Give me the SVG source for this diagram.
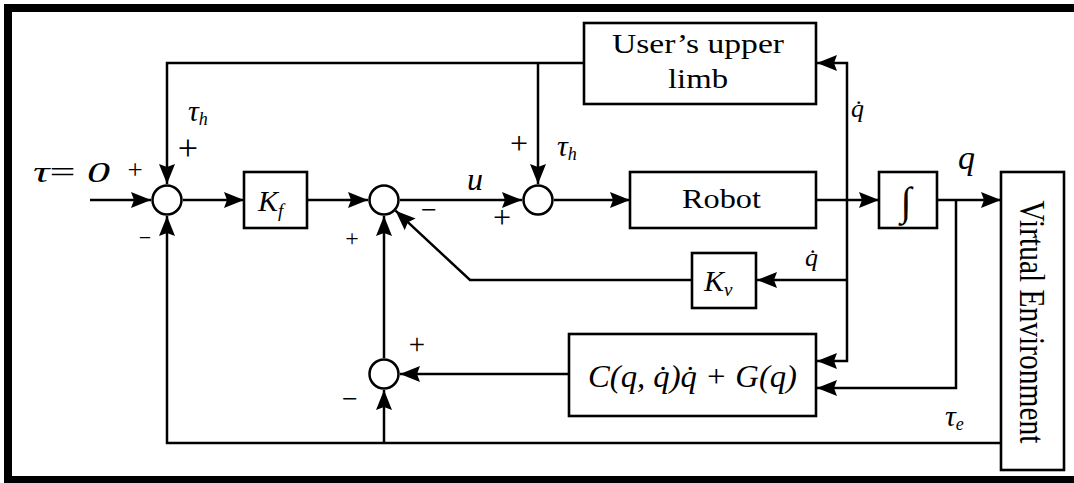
<svg xmlns="http://www.w3.org/2000/svg" width="1074" height="483" viewBox="0 0 1074 483">
<defs>
<marker id="ah" viewBox="0 0 20 16" refX="20" refY="8" markerWidth="20" markerHeight="16" markerUnits="userSpaceOnUse" orient="auto">
<path d="M0,0 L20,8 L0,16 L3,8 z" fill="#000"/>
</marker>
<style>
.box{fill:#fff;stroke:#000;stroke-width:2.6}
.sum{fill:#fff;stroke:#000;stroke-width:2.5}
.ln{fill:none;stroke:#000;stroke-width:2.5;marker-end:url(#ah)}
.t{font-family:"Liberation Serif","Times New Roman",serif;fill:#000}
.m{font-family:"Liberation Serif","Times New Roman",serif;font-style:italic;fill:#000}
.s{font-family:"Liberation Serif","Times New Roman",serif;fill:#000;text-anchor:middle}
</style>
</defs>
<rect x="0" y="0" width="1074" height="483" fill="#fff"/>
<rect x="8" y="8" width="1080" height="472" fill="none" stroke="#000" stroke-width="8"/>

<g id="connectors">
<path class="ln" d="M90,200 H151"/>
<path class="ln" d="M584,63 H167 V184"/>
<path class="ln" d="M538,63 V184"/>
<path class="ln" d="M183,200 H244"/>
<path class="ln" d="M307,200 H368"/>
<path class="ln" d="M400,200 H522"/>
<path class="ln" d="M554,200 H630"/>
<path class="ln" d="M816,200 H879"/>
<path class="ln" d="M937,200 H1001"/>
<path class="ln" d="M847,200 V63 H817"/>
<path class="ln" d="M847,200 V361 H817"/>
<path class="ln" d="M847,280 H757"/>
<path class="ln" d="M956,200 V388 H817"/>
<path class="ln" d="M692,280 H470 L395.5,210.7"/>
<path class="ln" d="M569,374 H400"/>
<path class="ln" d="M384,358 V216"/>
<path class="ln" d="M1001,443 H167 V216"/>
<path class="ln" d="M384,443 V390"/>
</g>

<g id="sum1"><circle class="sum" cx="167" cy="200" r="14.5"/></g>
<g id="sum2"><circle class="sum" cx="538" cy="200" r="14.5"/></g>
<g id="sum3"><circle class="sum" cx="384" cy="200" r="14.5"/></g>
<g id="sum4"><circle class="sum" cx="384" cy="374" r="14.5"/></g>

<g id="user-limb">
<rect class="box" x="584" y="23" width="232" height="81"/>
<text class="t" x="612" y="53" font-size="28" textLength="172" lengthAdjust="spacingAndGlyphs">User’s upper</text>
<text class="t" x="668" y="88" font-size="28" textLength="60" lengthAdjust="spacingAndGlyphs">limb</text>
</g>

<g id="kf">
<rect class="box" x="244" y="172" width="63" height="56"/>
<text class="m" x="258" y="211" font-size="30">K<tspan font-size="19" dy="6">f</tspan></text>
</g>

<g id="robot">
<rect class="box" x="630" y="172" width="186" height="56"/>
<text class="t" x="682" y="208" font-size="27" textLength="79" lengthAdjust="spacingAndGlyphs">Robot</text>
</g>

<g id="integrator">
<rect class="box" x="879" y="172" width="58" height="56"/>
<text class="m" x="906" y="215" font-size="40" text-anchor="middle">∫</text>
</g>

<g id="virtual-env">
<rect class="box" x="1001" y="172" width="63" height="298"/>
<text class="t" transform="translate(1020,322) scale(1.18,1) rotate(90)" x="0" y="0" font-size="29.5" text-anchor="middle">Virtual Environment</text>
</g>

<g id="kv">
<rect class="box" x="692" y="253" width="64" height="55"/>
<text class="m" x="704" y="291" font-size="30">K<tspan font-size="19" dy="5">v</tspan></text>
</g>

<g id="coriolis">
<rect class="box" x="569" y="334" width="247" height="82"/>
<text class="m" x="588" y="387" font-size="31" textLength="209" lengthAdjust="spacingAndGlyphs">C(q, q̇)q̇ + G(q)</text>
</g>

<g id="labels">
<text class="m" x="33" y="182" font-size="30" textLength="77" lengthAdjust="spacingAndGlyphs">τ<tspan font-style="normal">=</tspan> 0</text>
<text class="m" x="188" y="121" font-size="30">τ<tspan font-size="18" dy="4">h</tspan></text>
<text class="m" x="557" y="156" font-size="30">τ<tspan font-size="18" dy="4">h</tspan></text>
<text class="m" x="945" y="426" font-size="30">τ<tspan font-size="18" dy="4">e</tspan></text>
<text class="m" x="467" y="190" font-size="32">u</text>
<text class="m" x="958" y="169" font-size="34">q</text>
<text class="m" x="851" y="117" font-size="26">q̇</text>
<text class="m" x="805" y="266" font-size="26">q̇</text>
</g>

<g id="signs">
<text class="s" x="135" y="179" font-size="27">+</text>
<text class="s" x="188" y="160" font-size="36">+</text>
<text class="s" x="145" y="245" font-size="22">−</text>
<text class="s" x="352" y="246" font-size="24">+</text>
<text class="s" x="429" y="219" font-size="28">−</text>
<text class="s" x="519" y="154" font-size="32">+</text>
<text class="s" x="502" y="228" font-size="32">+</text>
<text class="s" x="417" y="354" font-size="29">+</text>
<text class="s" x="350" y="408" font-size="28">−</text>
</g>
</svg>
